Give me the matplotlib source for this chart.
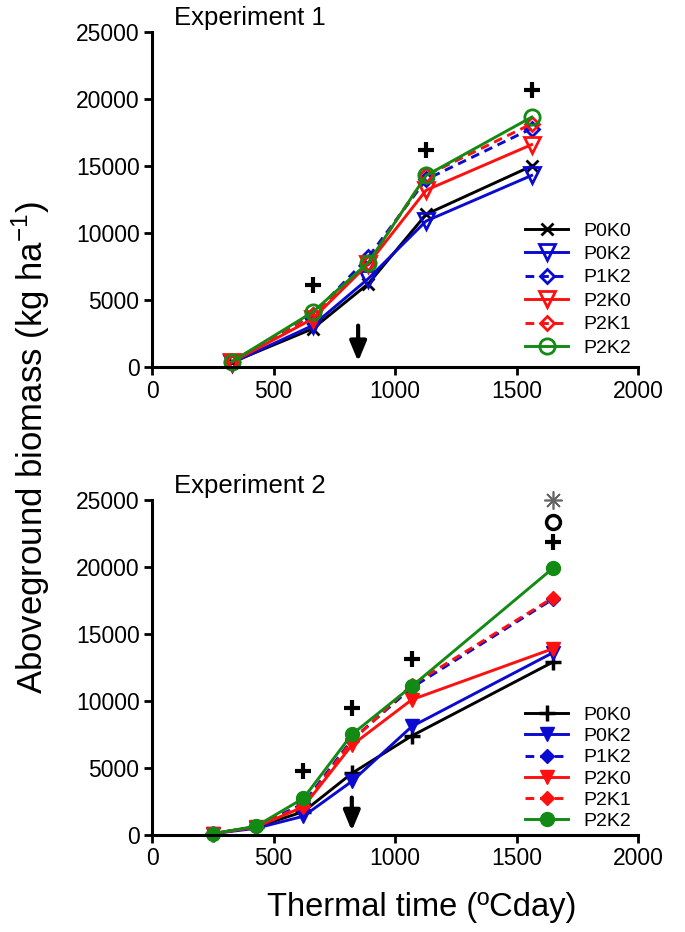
import matplotlib
matplotlib.use("Agg")
import matplotlib.pyplot as plt

plt.rcParams['font.family'] = ['Liberation Sans', 'DejaVu Sans']

labels = ["P0K0", "P0K2", "P1K2", "P2K0", "P2K1", "P2K2"]

# experiment 1
x1 = [328, 661, 890, 1128, 1562]
exp1 = {
    "P0K0": [350, 2860, 6220, 11400, 15000],
    "P0K2": [300, 3100, 6600, 10900, 14300],
    "P1K2": [350, 3900, 8200, 14000, 17800],
    "P2K0": [350, 3600, 7700, 13200, 16600],
    "P2K1": [400, 3900, 7800, 14300, 18150],
    "P2K2": [400, 4100, 7800, 14300, 18650],
}
plus1_x = [661, 1128, 1562]
plus1_y = [6100, 16200, 20650]
arrow1_x = 848

# experiment 2
x2 = [250, 428, 623, 822, 1069, 1649]
exp2 = {
    "P0K0": [100, 600, 1740, 4600, 7400, 12900],
    "P0K2": [100, 500, 1400, 4000, 8100, 13600],
    "P1K2": [100, 600, 2350, 7100, 11000, 17600],
    "P2K0": [100, 600, 2100, 6700, 10100, 13900],
    "P2K1": [100, 600, 2200, 7000, 11200, 17700],
    "P2K2": [100, 650, 2740, 7500, 11100, 19900],
}
plus2_x = [623, 822, 1069, 1649]
plus2_y = [4750, 9500, 13100, 21900]
circ2_x, circ2_y = 1649, 23350
star2_x, star2_y = 1649, 25000
arrow2_x = 822

colors = {"P0K0": "black", "P0K2": "#0a0ad0", "P1K2": "#0a0ad0",
          "P2K0": "#ff1010", "P2K1": "#ff1010", "P2K2": "#138a13"}
dashed = {"P1K2", "P2K1"}

fig = plt.figure(figsize=(6.85, 9.32), dpi=100)
ax1 = fig.add_axes([0.222, 0.6062, 0.7095, 0.3594])
ax2 = fig.add_axes([0.222, 0.1041, 0.7095, 0.3594])


def style(ax):
    ax.set_xlim(0, 2000)
    ax.set_ylim(0, 25000)
    ax.set_xticks([0, 500, 1000, 1500, 2000])
    ax.set_yticks([0, 5000, 10000, 15000, 20000, 25000])
    for s in ["top", "right"]:
        ax.spines[s].set_visible(False)
    for s in ["left", "bottom"]:
        ax.spines[s].set_linewidth(2.2)
    ax.tick_params(direction="out", length=6, width=2, labelsize=16.5, pad=3)


def draw(ax, x, data, exp):
    for lab in labels:
        c = colors[lab]
        ls = (0, (3, 2)) if lab in dashed else "-"
        if exp == 1:
            mk = {"P0K0": "x", "P0K2": "v", "P1K2": "D", "P2K0": "v",
                  "P2K1": "D", "P2K2": "o"}[lab]
            ms = {"x": 9, "v": 11, "D": 7, "o": 11}[mk]
            ax.plot(x, data[lab], color=c, ls=ls, lw=2.1, marker=mk, ms=ms,
                    mfc="none", mec=c, mew=2, label=lab, clip_on=False)
        else:
            mk = {"P0K0": "+", "P0K2": "v", "P1K2": "D", "P2K0": "v",
                  "P2K1": "D", "P2K2": "o"}[lab]
            ms = {"+": 11, "v": 10, "D": 7, "o": 10}[mk]
            ax.plot(x, data[lab], color=c, ls=ls, lw=2.1, marker=mk, ms=ms,
                    mfc=c, mec=c, mew=2.5 if mk == "+" else 1, label=lab,
                    clip_on=False)


style(ax1)
style(ax2)
draw(ax1, x1, exp1, 1)
draw(ax2, x2, exp2, 2)

ax1.plot(plus1_x, plus1_y, ls="none", marker="+", ms=11, mew=3, color="black")
ax2.plot(plus2_x, plus2_y, ls="none", marker="+", ms=11, mew=3, color="black")
ax2.plot([circ2_x], [circ2_y], ls="none", marker="o", ms=10, mfc="none",
         mec="black", mew=2.5)
ax2.plot([star2_x], [star2_y], ls="none", marker=(8, 2, 0), ms=13, mew=1.2,
         color="#666666", clip_on=False)

for ax, ax_x, y0, y1 in [(ax1, arrow1_x, 3300, 200), (ax2, arrow2_x, 3000, 100)]:
    ax.annotate("", xy=(ax_x, y1), xytext=(ax_x, y0),
                arrowprops=dict(arrowstyle="-|>,head_width=0.5,head_length=1.2",
                                color="black", lw=3))

ax1.text(0.045, 1.005, "Experiment 1", transform=ax1.transAxes, fontsize=18.5,
         va="bottom", ha="left")
ax2.text(0.045, 1.005, "Experiment 2", transform=ax2.transAxes, fontsize=18.5,
         va="bottom", ha="left")

for ax, y, sp in [(ax1, -0.01, 0.3), (ax2, -0.025, 0.18)]:
    ax.legend(loc="lower left", bbox_to_anchor=(0.74, y), frameon=False,
              fontsize=14, handlelength=2.2, handletextpad=0.8,
              labelspacing=sp, borderpad=0.2)

fig.text(0.045, 0.52, "Aboveground biomass (kg ha$^{\\mathregular{-1}}$)",
         rotation=90, fontsize=25, ha="center", va="center")
fig.text(0.615, 0.026, "Thermal time (ºCday)", fontsize=23.5, ha="center",
         va="center")

fig.savefig("out.png", dpi=100)
